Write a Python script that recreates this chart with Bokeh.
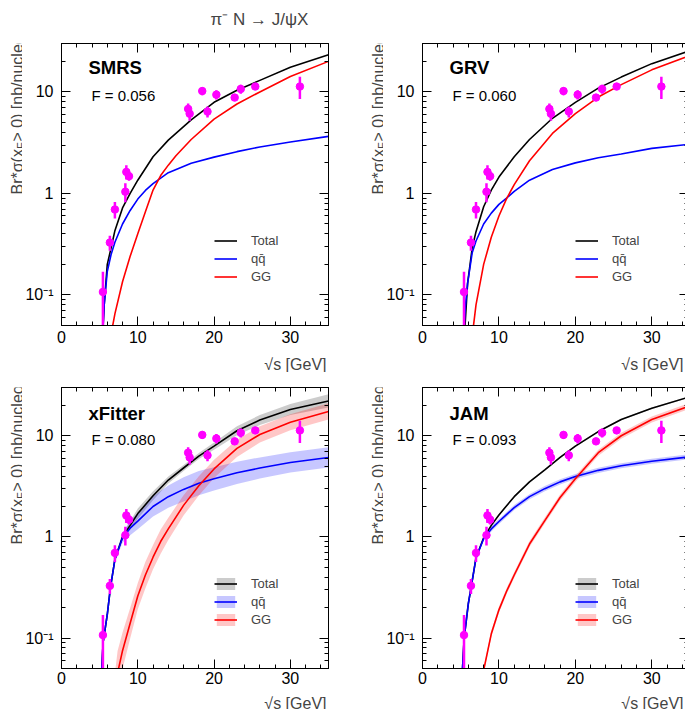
import math
from bokeh.plotting import figure
from bokeh.models import (Label, Legend, LegendItem, FixedTicker, LinearAxis, LogAxis,
                          CustomJSTickFormatter)
from bokeh.layouts import column, row
from bokeh.embed import file_html
from bokeh.resources import INLINE

FONT = "Liberation Sans"

# ---------------- data ----------------
sqrt_s = [5.43, 6.34, 7.0, 8.37, 8.5, 8.85, 16.6, 16.8, 18.45, 19.14, 20.3, 22.7, 23.5, 25.4, 31.25]
sigma = [0.107, 0.328, 0.695, 1.04, 1.63, 1.48, 6.8, 6.1, 10.2, 6.4, 9.4, 8.8, 10.7, 11.3, 11.3]
sigma_err = [0.062, 0.055, 0.13, 0.22, 0.26, 0.15, 0.9, 0.9, 0.9, 0.8, 1.0, 0.6, 1.1, 0.7, 2.8]

# SMRS
smrs_total_x = [5.42, 5.6, 6.0, 6.5, 7.0, 8.0, 9.0, 10, 12, 14, 17, 20, 23, 26, 30, 35]
smrs_total = [0.045, 0.08, 0.2, 0.29, 0.43, 0.72, 1.0, 1.35, 2.3, 3.35, 5.3, 7.9, 10.4, 13.0, 17.5, 23.2]
smrs_qq_x = [5.44, 5.6, 6.0, 6.5, 7.0, 8.0, 9.0, 10, 11, 12, 14, 17, 20, 23, 26, 30, 35]
smrs_qq = [0.045, 0.08, 0.17, 0.25, 0.33, 0.5, 0.68, 0.88, 1.07, 1.25, 1.6, 1.98, 2.28, 2.58, 2.87, 3.21, 3.65]
smrs_gg_x = [6.6, 7.0, 8.0, 9.0, 10, 11, 12, 13, 14, 15, 17, 20, 23, 26, 30, 35]
smrs_gg = [0.045, 0.065, 0.135, 0.24, 0.4, 0.66, 1.08, 1.5, 1.9, 2.35, 3.4, 5.4, 7.6, 10.0, 14.2, 20.0]

# GRV
grv_total_x = [5.52, 5.6, 5.9, 6.5, 7.0, 8.0, 9.0, 10, 12, 14, 17, 20, 23, 26, 30, 35]
grv_total = [0.045, 0.055, 0.13, 0.29, 0.42, 0.74, 1.08, 1.45, 2.3, 3.4, 5.5, 7.9, 10.9, 14.0, 19.0, 25.5]
grv_qq_x = [5.42, 5.6, 5.9, 6.5, 7.0, 8.0, 9.0, 10, 11, 12, 14, 17, 20, 23, 26, 30, 35]
grv_qq = [0.045, 0.075, 0.13, 0.26, 0.34, 0.5, 0.64, 0.78, 0.9, 1.05, 1.35, 1.72, 2.0, 2.25, 2.45, 2.78, 3.05]
grv_gg_x = [6.6, 7.0, 8.0, 9.0, 10, 11, 12, 14, 17, 20, 23, 26, 30, 35]
grv_gg = [0.045, 0.08, 0.2, 0.37, 0.6, 0.89, 1.22, 2.1, 3.9, 6.1, 8.9, 11.8, 16.5, 22.8]

# xFitter (curves + band half-widths in decades)
xf_total_x = [5.25, 5.45, 6.0, 6.4, 7.0, 8.0, 9, 10, 12, 14, 16, 18, 20, 23, 26, 30, 35]
xf_total = [0.045, 0.09, 0.17, 0.31, 0.6, 1.0, 1.3, 1.7, 2.55, 3.65, 4.8, 6.3, 7.9, 11.2, 14.3, 18.2, 22.1]
xf_total_band = [0.01, 0.01, 0.01, 0.015, 0.02, 0.025, 0.04, 0.05, 0.045, 0.035, 0.03, 0.03, 0.035, 0.045, 0.05, 0.055, 0.065]
xf_qq_x = [5.25, 5.45, 6.0, 6.4, 7.0, 8.0, 9, 10, 12, 14, 16, 18, 20, 23, 26, 30, 35]
xf_qq = [0.045, 0.09, 0.17, 0.31, 0.6, 0.98, 1.22, 1.43, 2.0, 2.5, 2.95, 3.4, 3.75, 4.3, 4.8, 5.45, 6.1]
xf_qq_band = [0.01, 0.01, 0.015, 0.02, 0.03, 0.05, 0.07, 0.08, 0.1, 0.11, 0.12, 0.12, 0.115, 0.11, 0.105, 0.1, 0.1]
xf_gg_x = [7.0, 7.35, 8, 9, 10, 11, 12, 13, 14, 16, 18, 20, 23, 26, 30, 35]
xf_gg = [0.025, 0.045, 0.075, 0.14, 0.26, 0.42, 0.63, 0.9, 1.2, 2.05, 3.2, 4.7, 7.5, 10.3, 13.6, 17.4]
xf_gg_band = [0.25, 0.22, 0.18, 0.15, 0.13, 0.13, 0.12, 0.12, 0.11, 0.1, 0.095, 0.09, 0.085, 0.08, 0.08, 0.08]

# JAM
jam_total_x = [5.2, 5.45, 6.0, 6.4, 7.0, 8.0, 9, 10, 12, 14, 16, 18, 20, 23, 26, 30, 35]
jam_total = [0.045, 0.1, 0.22, 0.33, 0.62, 0.98, 1.3, 1.65, 2.5, 3.5, 4.6, 6.1, 7.9, 11.0, 14.5, 18.7, 24.3]
jam_total_band = [0.008] * 17
jam_qq_x = [5.2, 5.45, 6.0, 6.4, 7.0, 8.0, 9, 10, 12, 14, 16, 18, 20, 23, 26, 30, 35]
jam_qq = [0.045, 0.1, 0.22, 0.33, 0.62, 0.96, 1.2, 1.42, 1.95, 2.5, 3.0, 3.5, 3.95, 4.55, 5.05, 5.6, 6.2]
jam_qq_band = [0.01, 0.01, 0.015, 0.015, 0.02, 0.02, 0.025, 0.025, 0.025, 0.025, 0.025, 0.025, 0.025, 0.025, 0.025, 0.025, 0.025]
jam_gg_x = [7.85, 8.0, 9, 10, 11, 12, 14, 16, 18, 20, 23, 26, 30, 35]
jam_gg = [0.04, 0.048, 0.11, 0.19, 0.29, 0.42, 0.85, 1.45, 2.45, 3.75, 6.8, 10.0, 14.5, 19.8]
jam_gg_band = [0.03] * 14

x_major = [0, 10, 20, 30]
x_minor = [2, 4, 6, 8, 12, 14, 16, 18, 22, 24, 26, 28, 32, 34]
y_major = [0.1, 1, 10]
y_minor = [0.05, 0.06, 0.07, 0.08, 0.09, 0.2, 0.3, 0.4, 0.5, 0.6, 0.7, 0.8, 0.9,
           2, 3, 4, 5, 6, 7, 8, 9, 20, 30]

title_text = "\u03c0\u207b N \u2192 J/\u03c8X"
x_title = "\u221as [GeV]"
y_title_a = "Br*\u03c3(x"
y_title_sub = "F"
y_title_b = " > 0) [nb/nucleon]"

MAGENTA = "#ff00ff"
BLUE = "#0000ff"
RED = "#ff0000"

Y_FMT = CustomJSTickFormatter(code="""
if (Math.abs(tick - 0.1) < 1e-9) return "10\u207b\u00b9";
if (Math.abs(tick - 1) < 1e-9) return "1";
if (Math.abs(tick - 10) < 1e-9) return "10";
return "";
""")


def style_axis(ax, labels=True):
    ax.major_tick_in = 9
    ax.major_tick_out = 0
    ax.minor_tick_in = 4
    ax.minor_tick_out = 0
    ax.axis_line_color = "black"
    ax.major_tick_line_color = "black"
    ax.minor_tick_line_color = "black"
    ax.axis_line_width = 1
    if labels:
        ax.major_label_text_font = FONT
        ax.major_label_text_font_size = "16px"
        ax.major_label_text_color = "black"
    else:
        ax.formatter = CustomJSTickFormatter(code="return '';")
        ax.major_label_text_font_size = "1px"
        ax.major_label_standoff = 0


def band(y, b):
    lo = [v / 10 ** w for v, w in zip(y, b)]
    hi = [v * 10 ** w for v, w in zip(y, b)]
    return lo, hi


def strip(w, h):
    s = figure(width=w, height=h, min_border=0,
               min_border_left=0, min_border_right=0, min_border_top=0, min_border_bottom=0,
               x_range=(0, 1), y_range=(0, 1),
               title=None, x_axis_location=None, y_axis_location=None,
               output_backend="svg", toolbar_location=None)
    s.grid.visible = False
    s.outline_line_color = None
    s.background_fill_color = "white"
    s.border_fill_color = "white"
    return s


def ytitle_strip(w, h, xb, top_end):
    s = strip(w, h)
    ang = math.pi / 2
    s.add_layout(Label(x=xb, y=top_end - 177, x_units="screen", y_units="screen", angle=ang,
                       text=y_title_a, text_font=FONT, text_font_size="16px",
                       text_align="left", text_baseline="alphabetic"))
    s.add_layout(Label(x=xb + 3.5, y=top_end - 131.5, x_units="screen", y_units="screen", angle=ang,
                       text=y_title_sub, text_font=FONT, text_font_size="11px",
                       text_align="left", text_baseline="alphabetic"))
    s.add_layout(Label(x=xb, y=top_end, x_units="screen", y_units="screen", angle=ang,
                       text=y_title_b, text_font=FONT, text_font_size="16px",
                       text_align="right", text_baseline="alphabetic"))
    return s


def xtitle_strip(h, yb):
    s = strip(685, h)
    for xr in (326, 683):
        s.add_layout(Label(x=xr, y=yb, x_units="screen", y_units="screen",
                           text=x_title, text_font=FONT, text_font_size="16px",
                           text_align="right", text_baseline="alphabetic"))
    return s


def make_panel(name, fval, curves, top, left):
    fw = 267 if left else 266
    fh = 282 if top else 281
    xmax = 35 if left else 34.8
    p = figure(frame_width=fw, frame_height=fh, title=None,
               min_border_left=37,
               min_border_right=32 if left else 1,
               min_border_top=10 if top else 15,
               min_border_bottom=24 if top else 22,
               x_range=(0, xmax), y_range=(0.05, 30), y_axis_type="log",
               output_backend="svg", toolbar_location=None)
    p.xgrid.visible = False
    p.ygrid.visible = False
    p.outline_line_color = "black"
    p.outline_line_width = 1
    p.background_fill_color = "white"
    p.border_fill_color = "white"

    xt = FixedTicker(ticks=x_major, minor_ticks=x_minor)
    yt = FixedTicker(ticks=y_major, minor_ticks=y_minor)
    p.xaxis[0].ticker = xt
    p.yaxis[0].ticker = yt
    style_axis(p.xaxis[0])
    style_axis(p.yaxis[0])
    p.xaxis[0].major_label_standoff = 5 if top else 3
    p.yaxis[0].major_label_standoff = 8
    p.yaxis[0].formatter = Y_FMT
    ax_top = LinearAxis(ticker=xt)
    style_axis(ax_top, labels=False)
    p.add_layout(ax_top, "above")
    ax_right = LogAxis(ticker=yt)
    style_axis(ax_right, labels=False)
    p.add_layout(ax_right, "right")

    specs = [("Total", "black", 0.2), ("q\u0071\u0304", BLUE, 0.22), ("GG", RED, 0.22)]
    band_rs = []
    for (lab, col, alpha), (cx, cy, cb) in zip(specs, curves):
        br = None
        if cb is not None:
            lo, hi = band(cy, cb)
            br = p.varea(x=cx, y1=lo, y2=hi, fill_color=col, fill_alpha=alpha)
        band_rs.append(br)
    line_rs = []
    for (lab, col, alpha), (cx, cy, cb) in zip(specs, curves):
        line_rs.append(p.line(cx, cy, line_color=col, line_width=1.6))
    items = []
    for (lab, _c, _a), br, lr in zip(specs, band_rs, line_rs):
        rs = [br, lr] if br is not None else [lr]
        items.append(LegendItem(label=lab, renderers=rs))

    lo_e = [v - e for v, e in zip(sigma, sigma_err)]
    hi_e = [v + e for v, e in zip(sigma, sigma_err)]
    p.segment(x0=sqrt_s, y0=lo_e, x1=sqrt_s, y1=hi_e, line_color=MAGENTA, line_width=2.5)
    p.scatter(x=sqrt_s, y=sigma, size=7.5, marker="circle", fill_color=MAGENTA, line_color=MAGENTA)

    leg = Legend(items=items, location=(153, 41), orientation="vertical",
                 spacing=3, glyph_width=23, glyph_height=15,
                 label_height=15, label_standoff=14, border_line_color=None,
                 background_fill_alpha=0, label_text_font=FONT,
                 label_text_font_size="13px")
    leg.padding = 0
    leg.margin = 0
    p.add_layout(leg)

    p.add_layout(Label(x=27, y=fh - (34 if top else 36.5), x_units="screen", y_units="screen",
                       text=name, text_font=FONT, text_font_size="18.5px",
                       text_font_style="bold", text_color="black"))
    p.add_layout(Label(x=30, y=fh - 60, x_units="screen", y_units="screen",
                       text="F = " + fval, text_font=FONT, text_font_size="15px",
                       text_color="black"))
    return p


p1 = make_panel("SMRS", "0.056",
                [(smrs_total_x, smrs_total, None), (smrs_qq_x, smrs_qq, None), (smrs_gg_x, smrs_gg, None)],
                True, True)
p2 = make_panel("GRV", "0.060",
                [(grv_total_x, grv_total, None), (grv_qq_x, grv_qq, None), (grv_gg_x, grv_gg, None)],
                True, False)
p3 = make_panel("xFitter", "0.080",
                [(xf_total_x, xf_total, xf_total_band), (xf_qq_x, xf_qq, xf_qq_band), (xf_gg_x, xf_gg, xf_gg_band)],
                False, True)
p4 = make_panel("JAM", "0.093",
                [(jam_total_x, jam_total, jam_total_band), (jam_qq_x, jam_qq, jam_qq_band), (jam_gg_x, jam_gg, jam_gg_band)],
                False, False)

# title strip (page y 0..33)
t_strip = strip(685, 33)
t_strip.add_layout(Label(x=210, y=14.3, x_units="screen", y_units="screen",
                         text=title_text, text_font=FONT, text_font_size="17px",
                         text_align="left", text_baseline="alphabetic"))

top_h = 10 + 282 + 24   # page 33..349
bot_h = 15 + 281 + 22   # page 372..690
sL1 = ytitle_strip(22, top_h, 16.5, 308)
sR1 = ytitle_strip(23, top_h, 17.5, 308)
sL2 = ytitle_strip(22, bot_h, 16.5, 301)
sR2 = ytitle_strip(23, bot_h, 17.5, 301)

x_strip1 = xtitle_strip(23, 8)     # page 349..372
x_strip2 = xtitle_strip(19, 6)     # page 690..709

layout = column(t_strip,
                row(sL1, p1, sR1, p2),
                x_strip1,
                row(sL2, p3, sR2, p4),
                x_strip2)
open("out.html", "w").write(file_html(layout, INLINE))
